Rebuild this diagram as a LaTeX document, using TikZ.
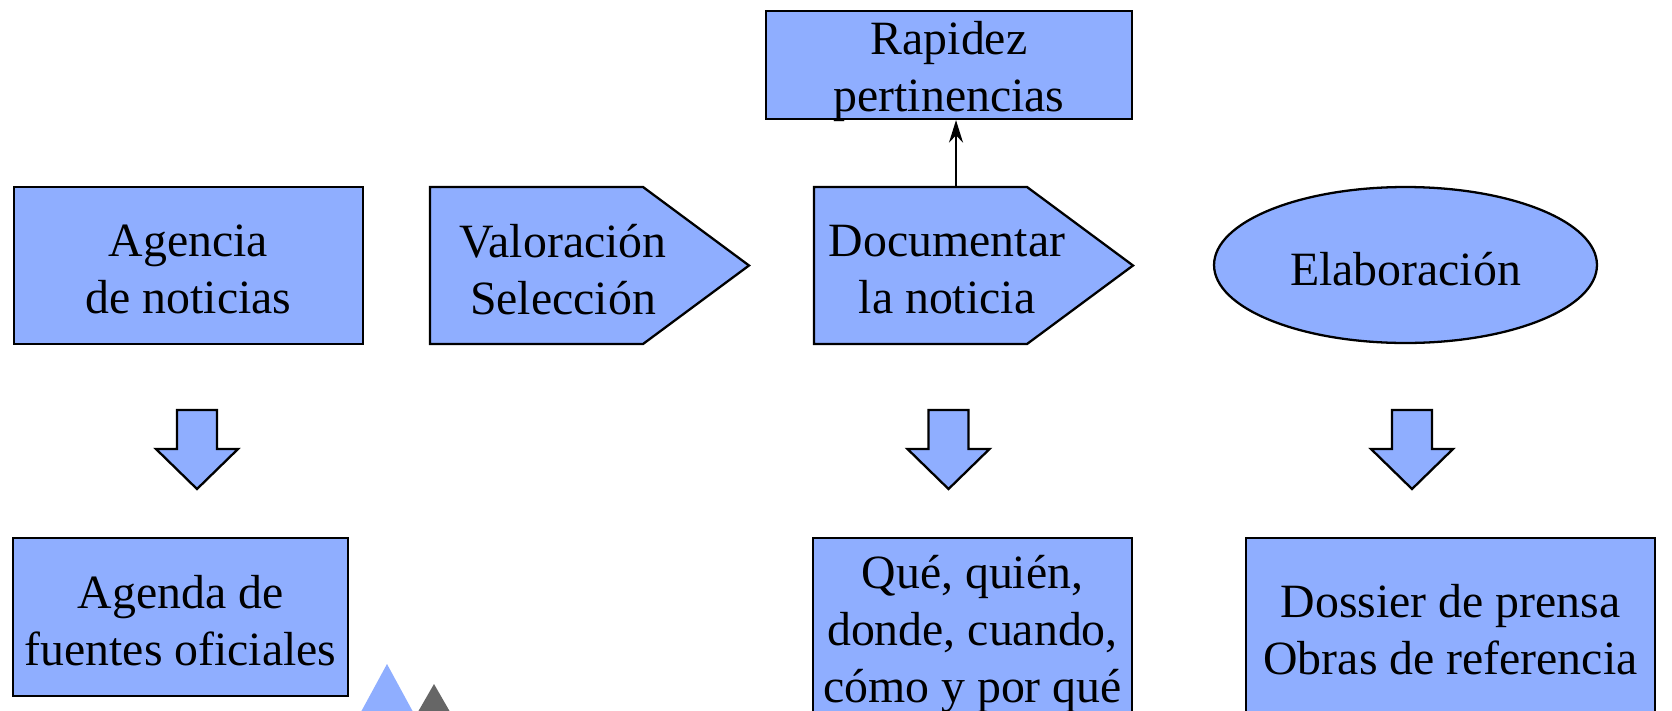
\documentclass[tikz,border=0pt]{standalone}
\usepackage{fontspec}
\setmainfont{Liberation Serif}
\usepackage{xcolor}
\usepackage{tikz}
\usetikzlibrary{arrows.meta}
\usetikzlibrary{shapes.geometric}

\definecolor{boxblue}{RGB}{143,174,255}
\definecolor{trigray}{RGB}{102,102,102}

\begin{document}
\begin{tikzpicture}[x=0.02cm, y=-0.02cm, font=\fontsize{27.2}{32.5}\selectfont,
		box/.style = {draw, line width=1.3pt, fill=boxblue, inner sep=0pt},
		txt/.style = {align=center, inner sep=0pt, yshift=-2.2pt}]
		\useasboundingbox (0,0) rectangle (1672,710);
		% flechas de bloque hacia abajo
		\foreach \x in {197,948.5,1412}
			\draw[line width=1.3pt, fill=boxblue, line join=miter]
				({\x-20},410) -- ({\x+20},410) -- ({\x+20},449) -- ({\x+41},449)
				-- (\x,489) -- ({\x-41},449) -- ({\x-20},449) -- cycle;
		% pentagonos
		\draw[line width=1.3pt, fill=boxblue] (430,187) -- (643,187) -- (749,265.5) -- (643,344) -- (430,344) -- cycle;
		\draw[line width=1.3pt, fill=boxblue] (814,187) -- (1027,187) -- (1133,265.5) -- (1027,344) -- (814,344) -- cycle;
		% triangulos
		\fill[trigray] (434,684) -- (411,724) -- (457,724) -- cycle;
		\fill[boxblue] (387,664) -- (354.4,724) -- (419.6,724) -- cycle;
		% cajas
		\node[box, minimum width=6.98cm, minimum height=3.14cm] (agencia) at (188.5,265.5) {};
		\node[box, minimum width=6.7cm, minimum height=3.16cm] (agenda) at (180.5,617) {};
		\node[box, minimum width=7.32cm, minimum height=2.16cm] (rapidez) at (949,65) {};
		\node[box, ellipse, minimum width=7.66cm, minimum height=3.12cm] (elab) at (1405.5,265) {};
		\node[box, minimum width=6.38cm, minimum height=3.52cm] (que) at (972.5,626) {};
		\node[box, minimum width=8.18cm, minimum height=3.52cm] (dossier) at (1450.5,626) {};
		% textos
		\node[txt] (agenciatxt) at (agencia) {Agencia\\de noticias};
		\node[txt] (agendatxt) at (agenda) {Agenda de\\fuentes oficiales};
		\node[txt, yshift=-1.6pt] (rapideztxt) at (rapidez) {Rapidez\\pertinencias};
		\node[txt] (elabtxt) at (elab) {Elaboración};
		\node[txt, yshift=-2.2pt] (quetxt) at (que) {Qué, quién,\\donde, cuando,\\cómo y por qué};
		\node[txt] (dossiertxt) at (dossier) {Dossier de prensa\\Obras de referencia};
		\node[txt] (valor) at (563,265.5) {Valoración\\Selección};
		\node[txt] (docu) at (947,265.5) {Documentar\\la noticia};
		\coordinate (doctop) at (956,187);
		\begin{scope}[>={Stealth[black, length=4.5mm, width=2.8mm]}]
			\draw[->, line width=1.1pt] (doctop) -- (doctop |- rapidez.south);
		\end{scope}
	\end{tikzpicture}
\end{document}
